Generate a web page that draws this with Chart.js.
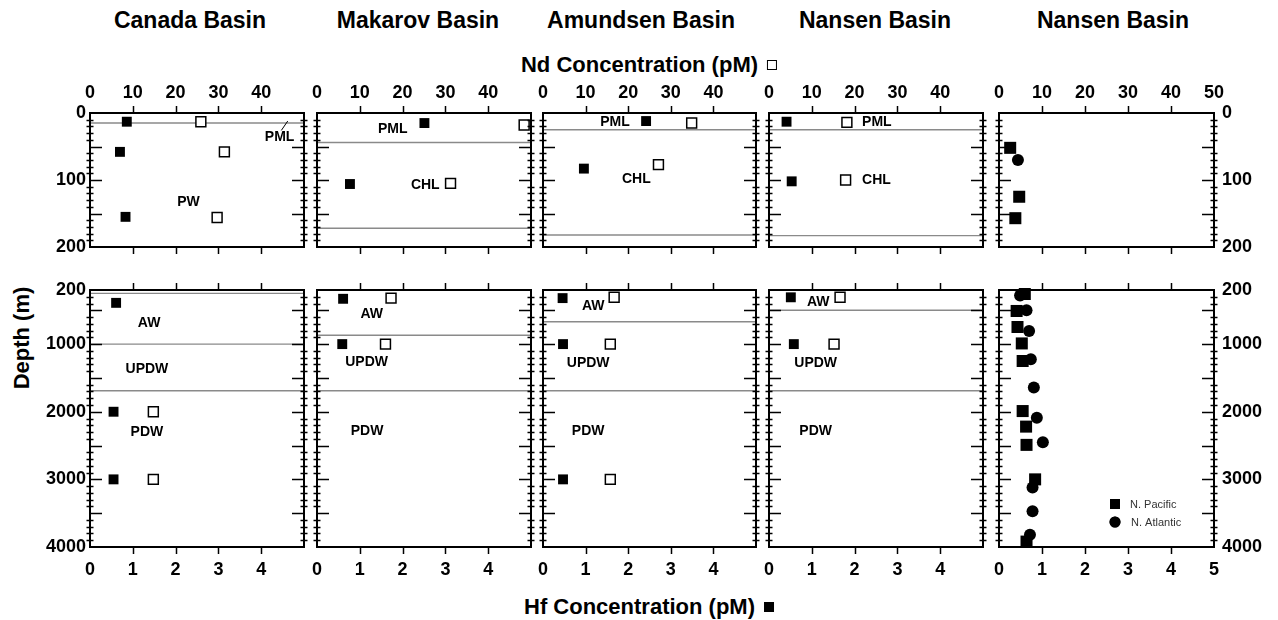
<!DOCTYPE html>
<html>
<head>
<meta charset="utf-8">
<title>Hf and Nd profiles in Arctic basins</title>
<script src="https://cdn.jsdelivr.net/npm/chart.js@4.4.1/dist/chart.umd.min.js"></script>
<style>
  html, body { margin: 0; padding: 0; background: #fff; }
  #fig { position: relative; width: 1278px; height: 620px; overflow: hidden; background: #fff;
         font-family: "Liberation Sans", Arial, Helvetica, sans-serif; color: #000; }
  #fig canvas { position: absolute; left: 0; top: 0; }
  .t { position: absolute; font-weight: bold; white-space: nowrap; transform: translate(-50%, -50%); }
  .basin { font-size: 23px; }
  .axt { font-size: 22px; }
  .sym { display: inline-block; width: 10px; height: 10px; margin-left: 9px; box-sizing: border-box;
         vertical-align: middle; position: relative; top: -1px; }
  .sym.open { border: 1.5px solid #000; background: #fff; }
  .sym.fill { background: #000; }
</style>
</head>
<body>
<div id="fig"></div>
<script>
// ---- panel titles and tick labels ----
const basins = ['Canada Basin', 'Makarov Basin', 'Amundsen Basin', 'Nansen Basin', 'Nansen Basin'];
const hfTicks = [0, 1, 2, 3, 4];
const hfTicksLast = [0, 1, 2, 3, 4, 5];
const ndTicks = [0, 10, 20, 30, 40];
const ndTicksLast = [0, 10, 20, 30, 40, 50];
const upperDepthTicks = [0, 100, 200];
const lowerDepthTicks = [200, 1000, 2000, 3000, 4000];

// ---- profiles: depth (m), Hf (pM, filled) and Nd (pM, open) ----
const canadaHfDepth = [13, 58, 155, 390, 2000, 3000];
const canadaHf      = [0.86, 0.70, 0.83, 0.61, 0.55, 0.55];
const canadaNdDepth = [13, 58, 156, 2000, 3000];
const canadaNd      = [25.9, 31.4, 29.7, 14.8, 14.8];

const makarovHfDepth = [15, 106, 330, 1000];
const makarovHf      = [2.51, 0.77, 0.61, 0.59];
const makarovNdDepth = [18, 105, 320, 1000];
const makarovNd      = [48.4, 31.2, 17.3, 16.0];

const amundsenHfDepth = [12, 83, 320, 1000, 3000];
const amundsenHf      = [2.42, 0.96, 0.46, 0.47, 0.47];
const amundsenNdDepth = [15, 77, 308, 1000, 3000];
const amundsenNd      = [34.9, 27.1, 16.7, 15.8, 15.8];

const nansenHfDepth = [13, 102, 308, 1000];
const nansenHf      = [0.41, 0.53, 0.51, 0.58];
const nansenNdDepth = [14, 100, 308, 1000];
const nansenNd      = [18.2, 17.9, 16.6, 15.2];

// ---- reference Hf profiles (pM) ----
const pacificDepth = [52, 125, 157, 259, 510, 747, 990, 1250, 1990, 2220, 2490, 3000, 3920];
const pacificHf    = [0.26, 0.47, 0.38, 0.60, 0.41, 0.43, 0.53, 0.55, 0.55, 0.63, 0.64, 0.84, 0.64];
const atlanticDepth = [70, 280, 500, 805, 1225, 1640, 2090, 2450, 3120, 3470, 3820];
const atlanticHf    = [0.44, 0.49, 0.64, 0.70, 0.74, 0.81, 0.88, 1.02, 0.78, 0.78, 0.72];

// ---- water-mass boundaries (m) ----
const canadaBounds   = [15, 250, 1000, 1690];
const makarovBounds  = [44, 172, 870, 1690];
const amundsenBounds = [25, 182, 670, 1690];
const nansenBounds   = [25, 183, 500, 1690];

// ---- water-mass label placement: [text, Hf-axis x, depth] ----
const canadaLabels   = [['PML', 4.43, 36], ['PW', 2.30, 133], ['AW', 1.38, 688], ['UPDW', 1.33, 1368], ['PDW', 1.33, 2300]];
const makarovLabels  = [['PML', 1.77, 24], ['CHL', 2.53, 107], ['AW', 1.28, 555], ['UPDW', 1.16, 1260], ['PDW', 1.17, 2280]];
const amundsenLabels = [['PML', 1.69, 14], ['CHL', 2.19, 99], ['AW', 1.18, 432], ['UPDW', 1.06, 1275], ['PDW', 1.06, 2280]];
const nansenLabels   = [['PML', 2.52, 14], ['CHL', 2.51, 100], ['AW', 1.15, 373], ['UPDW', 1.09, 1275], ['PDW', 1.09, 2280]];
const canadaLeader   = [4.47, 26, 4.62, 12];

// ---- page layout ----
const W = 1278, H = 620;
const FONT = '"Liberation Sans", Arial, Helvetica, sans-serif';
const panelLeft  = [90, 317, 543, 769, 999];
const panelRight = [304, 531, 756, 983, 1214];
const rowTop     = [113, 290];
const rowBottom  = [247, 547];
const titleX     = [190, 418, 641, 875, 1113];
const X_AXIS_BOX = 40;   // room reserved for a labelled horizontal axis
const Y_AXIS_BOX = 62;   // room reserved for a labelled vertical axis

const fig = document.getElementById('fig');

function addText(html, cls, x, y, rotate) {
  const d = document.createElement('div');
  d.className = 't ' + cls;
  d.innerHTML = html;
  d.style.left = x + 'px';
  d.style.top = y + 'px';
  if (rotate) d.style.transform = 'translate(-50%, -50%) rotate(-90deg)';
  fig.appendChild(d);
}

basins.forEach((b, i) => addText(b, 'basin', titleX[i], 20));
addText('Nd Concentration (pM)<span class="sym open"></span>', 'axt', 649, 65);
addText('Hf Concentration (pM)<span class="sym fill"></span>', 'axt', 649, 607);
addText('Depth (m)', 'axt', 22, 338, true);

function pick(depths, values, row) {
  const out = [];
  depths.forEach((d, i) => {
    if (row === 0 ? d <= 200 : d >= 200) out.push({ x: values[i], y: d });
  });
  return out;
}

// frame, inward/crossing ticks, water-mass labels and legend
const framePlugin = {
  id: 'frame',
  afterDatasetsDraw(chart, args, opts) {
    const { ctx, chartArea: a, scales } = chart;
    const xs = scales.x, ys = scales.y;
    ctx.save();
    ctx.strokeStyle = '#000';
    ctx.lineWidth = 1.5;
    ctx.beginPath();
    [1, 2, 3, 4].forEach(v => {
      const px = Math.round(xs.getPixelForValue(v)) + 0.5;
      ctx.moveTo(px, a.top); ctx.lineTo(px, a.top - 7);
      ctx.moveTo(px, a.bottom); ctx.lineTo(px, a.bottom + 7);
    });
    const lo = ys.min, hi = ys.max;
    const minorStep = opts.row === 0 ? 10 : 100;
    const majorStep = opts.row === 0 ? 50 : 500;
    for (let v = Math.ceil((lo + 1) / minorStep) * minorStep; v < hi; v += minorStep) {
      const py = Math.round(ys.getPixelForValue(v)) + 0.5;
      if (v % majorStep === 0) {
        ctx.moveTo(a.left, py); ctx.lineTo(a.left + 12, py);
        ctx.moveTo(a.right, py); ctx.lineTo(a.right - 12, py);
      } else {
        ctx.moveTo(a.left - 3.5, py); ctx.lineTo(a.left + 3.5, py);
        ctx.moveTo(a.right - 3.5, py); ctx.lineTo(a.right + 3.5, py);
      }
    }
    ctx.stroke();
    ctx.lineWidth = 2;
    ctx.strokeRect(a.left, a.top, a.right - a.left, a.bottom - a.top);

    ctx.fillStyle = '#000';
    ctx.font = 'bold 14px ' + FONT;
    ctx.textAlign = 'center';
    ctx.textBaseline = 'middle';
    (opts.labels || []).forEach(([t, x, d]) => {
      ctx.fillText(t, xs.getPixelForValue(x), ys.getPixelForValue(d));
    });
    if (opts.leader) {
      const [x1, d1, x2, d2] = opts.leader;
      ctx.lineWidth = 1;
      ctx.beginPath();
      ctx.moveTo(xs.getPixelForValue(x1), ys.getPixelForValue(d1));
      ctx.lineTo(xs.getPixelForValue(x2), ys.getPixelForValue(d2));
      ctx.stroke();
    }
    if (opts.legend) {
      const lx = a.right - 99, ly1 = a.bottom - 43, ly2 = a.bottom - 25;
      Chart.helpers.drawPoint(ctx, { pointStyle: 'rect', radius: 7, borderWidth: 0 }, lx, ly1);
      ctx.fill();
      Chart.helpers.drawPoint(ctx, { pointStyle: 'circle', radius: 5.5, borderWidth: 0 }, lx, ly2);
      ctx.fill();
      ctx.font = '11px ' + FONT;
      ctx.fillStyle = '#333';
      ctx.textAlign = 'left';
      ctx.fillText('N. Pacific', lx + 15, ly1 + 1);
      ctx.fillText('N. Atlantic', lx + 16, ly2 + 1);
    }
    ctx.restore();
  }
};

function makeScale(position, min, max, ticks, show, pad) {
  const horizontal = position === 'top' || position === 'bottom';
  const size = show ? (horizontal ? X_AXIS_BOX : Y_AXIS_BOX) : 0;
  return {
    type: 'linear', position, min, max,
    reverse: !horizontal,
    display: show,
    afterBuildTicks: s => { s.ticks = ticks.map(v => ({ value: v })); },
    afterFit: s => { if (horizontal) s.height = size; else s.width = size; },
    grid: { display: false, drawTicks: false },
    border: { display: false },
    ticks: {
      display: show, padding: pad, color: '#000', autoSkip: false, maxRotation: 0,
      font: { family: FONT, size: 18, weight: 'bold' },
      callback: v => String(v)
    }
  };
}

const panels = [
  { hf: [canadaHfDepth, canadaHf], nd: [canadaNdDepth, canadaNd], bounds: canadaBounds, labels: canadaLabels, leader: canadaLeader },
  { hf: [makarovHfDepth, makarovHf], nd: [makarovNdDepth, makarovNd], bounds: makarovBounds, labels: makarovLabels },
  { hf: [amundsenHfDepth, amundsenHf], nd: [amundsenNdDepth, amundsenNd], bounds: amundsenBounds, labels: amundsenLabels },
  { hf: [nansenHfDepth, nansenHf], nd: [nansenNdDepth, nansenNd], bounds: nansenBounds, labels: nansenLabels },
  { pacific: [pacificDepth, pacificHf], atlantic: [atlanticDepth, atlanticHf], bounds: [], labels: [] }
];

panels.forEach((p, i) => {
  [0, 1].forEach(row => {
    const cv = document.createElement('canvas');
    cv.width = W; cv.height = H;
    cv.style.width = W + 'px'; cv.style.height = H + 'px';
    fig.appendChild(cv);

    const last = i === panels.length - 1;
    const yMin = row === 0 ? 0 : 200, yMax = row === 0 ? 200 : 4000;
    const yTicks = row === 0 ? upperDepthTicks : lowerDepthTicks;
    const showBottom = row === 1, showTop = row === 0, showLeft = i === 0, showRight = last;
    const datasets = [];

    if (p.hf) {
      datasets.push({
        data: pick(p.hf[0], p.hf[1], row), xAxisID: 'x', yAxisID: 'y',
        pointStyle: 'rect', pointRadius: 7, backgroundColor: '#000', borderColor: '#000', borderWidth: 0,
        showLine: false, clip: false, order: 0
      });
      datasets.push({
        data: pick(p.nd[0], p.nd[1], row), xAxisID: 'x2', yAxisID: 'y',
        pointStyle: 'rect', pointRadius: 7, backgroundColor: '#fff', borderColor: '#000', borderWidth: 1.5,
        showLine: false, clip: false, order: 0
      });
    } else {
      datasets.push({
        data: pick(p.pacific[0], p.pacific[1], row), xAxisID: 'x', yAxisID: 'y',
        pointStyle: 'rect', pointRadius: 8.5, backgroundColor: '#000', borderColor: '#000', borderWidth: 0,
        showLine: false, clip: false, order: 0
      });
      datasets.push({
        data: pick(p.atlantic[0], p.atlantic[1], row), xAxisID: 'x', yAxisID: 'y',
        pointStyle: 'circle', pointRadius: 6, backgroundColor: '#000', borderColor: '#000', borderWidth: 0,
        showLine: false, clip: false, order: 0
      });
    }
    p.bounds.filter(d => d > yMin && d < yMax).forEach(d => {
      datasets.push({
        data: [{ x: 0, y: d }, { x: 5, y: d }], xAxisID: 'x', yAxisID: 'y',
        showLine: true, pointRadius: 0, borderColor: '#8a8a8a', borderWidth: 1.4, order: 2
      });
    });

    const labels = p.labels.filter(l => row === 0 ? l[2] <= 200 : l[2] > 200);

    new Chart(cv, {
      type: 'scatter',
      data: { datasets },
      plugins: [framePlugin],
      options: {
        responsive: false, animation: false, devicePixelRatio: 1,
        events: [],
        layout: {
          autoPadding: false,
          padding: {
            left: panelLeft[i] - (showLeft ? Y_AXIS_BOX : 0),
            right: W - panelRight[i] - (showRight ? Y_AXIS_BOX : 0),
            top: rowTop[row] - (showTop ? X_AXIS_BOX : 0),
            bottom: H - rowBottom[row] - (showBottom ? X_AXIS_BOX : 0)
          }
        },
        scales: {
          x:  makeScale('bottom', 0, 5, last ? hfTicksLast : hfTicks, showBottom, 12),
          x2: makeScale('top', 0, 50, last ? ndTicksLast : ndTicks, showTop, 9),
          y:  makeScale('left', yMin, yMax, yTicks, showLeft, 4),
          y2: makeScale('right', yMin, yMax, yTicks, showRight, 8)
        },
        plugins: {
          legend: { display: false },
          tooltip: { enabled: false },
          frame: { row, labels, leader: row === 0 ? p.leader : null, legend: last && row === 1 }
        }
      }
    });
  });
});
</script>
</body>
</html>
